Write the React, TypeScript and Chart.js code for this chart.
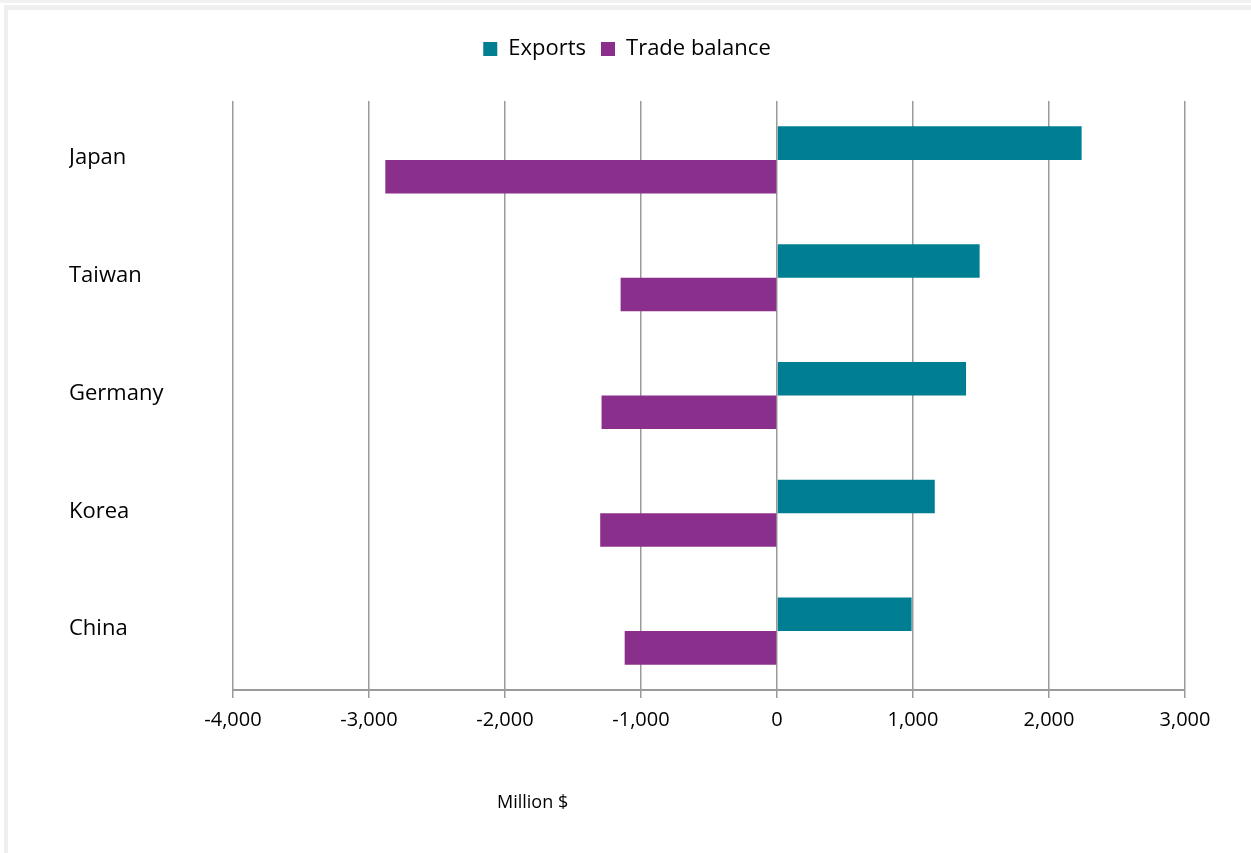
import React, { useEffect, useRef } from "react";
import { Chart, registerables } from "chart.js";

Chart.register(...registerables);

const categories = ["Japan", "Taiwan", "Germany", "Korea", "China"];
const exportsValues = [2240, 1490, 1390, 1160, 990];
const tradeBalanceValues = [-2880, -1150, -1290, -1300, -1120];
const seriesNames = ["Exports", "Trade balance"];
const xTickMin = -4000;
const xTickMax = 3000;
const xTickStep = 1000;
const axisTitle = "Million $";

const FONT = "'Open Sans', 'DejaVu Sans', sans-serif";

const legendGap = {
  id: "legendGap",
  beforeLayout(chart: any) {
    const lg = chart.legend;
    if (lg && !lg.__patched) {
      const orig = lg.fit.bind(lg);
      lg.fit = function () {
        orig();
        this.height += 31;
      };
      lg.__patched = true;
    }
  },
};

export default function App() {
  const ref = useRef<HTMLCanvasElement | null>(null);

  useEffect(() => {
    if (!ref.current) return;
    const chart = new Chart(ref.current, {
      type: "bar",
      data: {
        labels: categories,
        datasets: [
          {
            label: seriesNames[0],
            data: exportsValues,
            backgroundColor: "#007f93",
            borderWidth: 0,
            categoryPercentage: 0.57,
            barPercentage: 1.0,
          },
          {
            label: seriesNames[1],
            data: tradeBalanceValues,
            backgroundColor: "#8b2f8d",
            borderWidth: 0,
            categoryPercentage: 0.57,
            barPercentage: 1.0,
          },
        ],
      },
      options: {
        indexAxis: "y",
        animation: false,
        responsive: false,
        maintainAspectRatio: false,
        layout: { padding: { left: 69, right: 66, top: 23, bottom: 103 } },
        plugins: {
          tooltip: { enabled: false },
          legend: {
            display: true,
            position: "top",
            labels: {
              boxWidth: 14,
              boxHeight: 14,
              padding: 15,
              color: "#000",
              font: { family: FONT, size: 22 },
            },
          },
        },
        scales: {
          x: {
            type: "linear",
            min: xTickMin,
            max: xTickMax,
            afterFit: (s: any) => {
              s.height = 60;
            },
            ticks: {
              stepSize: xTickStep,
              padding: 10,
              color: "#000",
              font: { family: FONT, size: 20 },
              callback: (v: any) => Number(v).toLocaleString("en-US"),
            },
            grid: {
              color: "#9a9a9a",
              lineWidth: 1.5,
              tickLength: 8,
            },
            border: { display: true, color: "#9a9a9a", width: 2 },
          },
          y: {
            afterFit: (s: any) => {
              s.width = 164;
            },
            grid: { display: false },
            border: { display: false },
            ticks: {
              crossAlign: "far",
              labelOffset: -2,
              color: "#000",
              font: { family: FONT, size: 22 },
            },
          },
        },
      },
      plugins: [legendGap],
    });
    return () => chart.destroy();
  }, []);

  return (
    <div
      style={{
        position: "fixed",
        left: 0,
        top: 0,
        width: 1251,
        height: 853,
        background: "#fff",
        overflow: "hidden",
      }}
    >
      <div
        style={{
          position: "absolute",
          left: 0,
          top: 0,
          width: 1251,
          height: 3,
          background: "#f1f1f1",
        }}
      />
      <div
        style={{
          position: "absolute",
          left: 4,
          top: 5,
          width: 1300,
          height: 900,
          borderLeft: "4px solid #efefef",
          borderTop: "5px solid #efefef",
          background: "#fff",
        }}
      />
      <canvas
        ref={ref}
        width={1251}
        height={853}
        style={{ position: "absolute", left: 0, top: 0, width: 1251, height: 853 }}
      />
      <div
        style={{
          position: "absolute",
          left: 497,
          top: 789,
          fontFamily: FONT,
          fontSize: 18,
          lineHeight: "24px",
          color: "#000",
          whiteSpace: "nowrap",
        }}
      >
        {axisTitle}
      </div>
    </div>
  );
}
